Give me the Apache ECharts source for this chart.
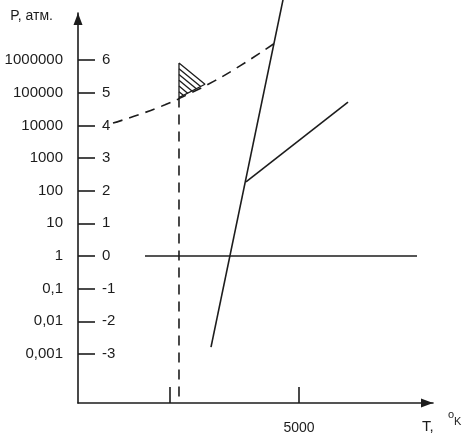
<!DOCTYPE html>
<html>
<head>
<meta charset="utf-8">
<script src="https://cdn.jsdelivr.net/npm/echarts@6/dist/echarts.min.js"></script>
<style>
html,body{margin:0;padding:0;background:#fff;}
#c{width:470px;height:441px;}
</style>
</head>
<body>
<div id="c"></div>
<script>
// log10(P) ticks and their pressure labels
const logTicks = [6, 5, 4, 3, 2, 1, 0, -1, -2, -3];
const pLabels = ['1000000', '100000', '10000', '1000', '100', '10', '1', '0,1', '0,01', '0,001'];
// temperature ticks
const tTicks = [2080, 5000];
const tLabels = [5000];

// lines: [T, log10 P]
const meltLine = [[3009, -2.79], [4638, 7.84]];
const branchLine = [[3801, 2.27], [6109, 4.71]];
const zeroLine = [[1516, 0], [7670, 0]];
const dashedCurve = [[792, 4.07], [1403, 4.34], [1968, 4.63], [2534, 4.98], [3100, 5.37], [3665, 5.82], [4434, 6.50]];
const dashedVertical = [[2285, 4.85], [2285, -4.5]];
const triangle = [[2285, 5.91], [2873, 5.26], [2285, 4.85]];
const hatchCount = 6;

const ink = '#1c1c1c';
const font = 'Liberation Sans, Arial, sans-serif';

// hatching lines parallel to the top edge of the triangle
const A = triangle[0], B = triangle[1], C = triangle[2];
const hatch = [];
for (let k = 1; k < hatchCount; k++) {
  const t = k / hatchCount;
  hatch.push({coords: [
    [A[0] + t * (C[0] - A[0]), A[1] + t * (C[1] - A[1])],
    [B[0] + t * (C[0] - B[0]), B[1] + t * (C[1] - B[1])]
  ]});
}

const chart = echarts.init(document.getElementById('c'), null, {renderer: 'canvas'});
const solid = {color: ink, width: 1.6, type: 'solid'};
const dashed = {color: ink, width: 1.6, type: [10, 7]};

chart.setOption({
  animation: false,
  backgroundColor: '#fff',
  grid: {left: 78, top: 13, right: 37, bottom: 38, containLabel: false},
  graphic: [
    {type: 'text', left: 422, top: 419, style: {text: 'T,', fill: ink, font: '15px ' + font}},
    {type: 'text', left: 448, top: 409, style: {text: 'o', fill: ink, font: '11px ' + font}},
    {type: 'text', left: 454, top: 416, style: {text: 'K', fill: ink, font: '11px ' + font}}
  ],
  xAxis: {
    type: 'value', min: 0, max: 8032,
    splitLine: {show: false},
    axisLine: {show: true, onZero: false, lineStyle: {color: ink, width: 1.6}, symbol: ['none', 'triangle'], symbolSize: [9, 12], symbolOffset: [0, -6]},
    axisTick: {show: true, inside: true, length: 16, lineStyle: {color: ink, width: 1.6}, customValues: tTicks},
    axisLabel: {show: true, customValues: tLabels, margin: 18, color: ink, fontSize: 14, fontFamily: font, formatter: v => String(v)}
  },
  yAxis: [{
    type: 'value', min: -4.5, max: 7.44, position: 'left',
    splitLine: {show: false},
    axisLine: {show: true, onZero: false, lineStyle: {color: ink, width: 1.6}, symbol: ['none', 'triangle'], symbolSize: [9, 12], symbolOffset: [0, -6]},
    axisTick: {show: true, inside: true, length: 17, lineStyle: {color: ink, width: 1.6}, customValues: logTicks},
    axisLabel: {
      show: true, customValues: logTicks, margin: 15, color: ink, fontSize: 15, fontFamily: font,
      formatter: v => pLabels[logTicks.indexOf(Math.round(v))]
    },
    name: 'P, атм.',
    nameLocation: 'end',
    nameGap: -3,
    nameTextStyle: {align: 'right', verticalAlign: 'middle', padding: [0, 25, 0, 0], color: ink, fontSize: 14, fontFamily: font}
  }, {
    type: 'value', min: -4.5, max: 7.44, position: 'left',
    splitLine: {show: false},
    axisLine: {show: false, onZero: false},
    axisTick: {show: false},
    axisLabel: {show: true, inside: true, customValues: logTicks, margin: 24, color: ink, fontSize: 15, fontFamily: font,
      formatter: v => String(Math.round(v))}
  }],
  series: [
    {type: 'line', data: meltLine, symbol: 'none', lineStyle: solid, clip: false, silent: true},
    {type: 'line', data: branchLine, symbol: 'none', lineStyle: solid, silent: true},
    {type: 'line', data: zeroLine, symbol: 'none', lineStyle: solid, silent: true},
    {type: 'line', data: dashedCurve, symbol: 'none', smooth: true, lineStyle: dashed, silent: true},
    {type: 'line', data: dashedVertical, symbol: 'none', lineStyle: dashed, silent: true},
    {type: 'line', data: triangle.concat([triangle[0]]), symbol: 'none', lineStyle: {color: ink, width: 1.3}, silent: true},
    {type: 'lines', coordinateSystem: 'cartesian2d', data: hatch, lineStyle: {color: ink, width: 1.3, opacity: 1}, silent: true}
  ]
});
</script>
</body>
</html>
